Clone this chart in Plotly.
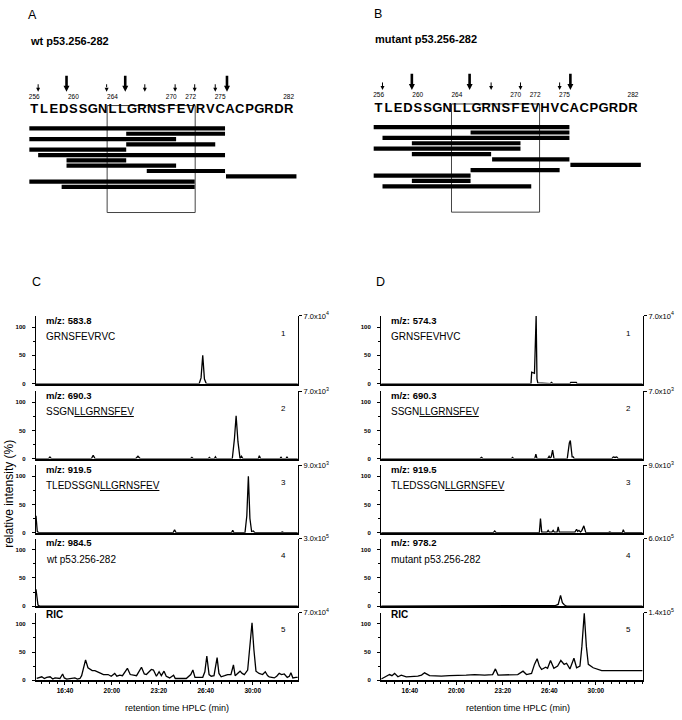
import plotly.graph_objects as go

W, H = 682, 720
FONT = "Liberation Sans, Arial, sans-serif"


def fx(px):
    return px / W


def fy(py):
    return 1 - py / H


# ---------------- sequence maps (panels A and B) ----------------
RESIDUES = list(range(256, 283))
WT_SEQ = list("TLEDSSGNLLGRNSFEVRVCACPGRDR")
MUT_SEQ = list("TLEDSSGNLLGRNSFEVHVCACPGRDR")
NUMBERED = [256, 260, 264, 270, 272, 275, 282]

# peptide fragments: start / end boundary (residue units), one row each
WT_BAR_START = [255.5, 265.4, 255.5, 265.4, 255.5, 256.4, 259.3, 259.3, 267.5, 275.6, 255.5, 258.8]
WT_BAR_END = [275.5, 275.5, 270.5, 274.5, 265.4, 275.5, 265.4, 270.5, 275.5, 282.8, 272.4, 272.4]
MUT_BAR_START = [255.5, 265.4, 256.4, 259.4, 255.5, 259.4, 267.6, 275.6, 265.4, 255.5, 259.4, 256.4]
MUT_BAR_END = [275.5, 275.5, 275.5, 270.5, 270.5, 267.5, 275.5, 282.8, 274.5, 265.4, 265.4, 271.6]

# cleavage sites
WT_ARROW_POS = [256.4, 259.3, 263.4, 265.3, 267.3, 270.4, 272.4, 274.5, 275.7]
WT_ARROW_KIND = ["minor", "major", "dashed", "major", "minor", "minor", "minor", "minor", "major"]
MUT_ARROW_POS = [256.4, 259.4, 265.3, 267.5, 270.5, 274.5, 275.6]
MUT_ARROW_KIND = ["minor", "major", "major", "minor", "minor", "minor", "major"]

BOX_RESIDUES = (263.45, 272.45)

ARROW_STYLE = {
    "major": dict(tail=-8.9, width=2.6, head=6, dash="solid"),
    "minor": dict(tail=-7.3, width=1.0, head=4, dash="solid"),
    "dashed": dict(tail=-7.3, width=1.0, head=4, dash="dot"),
}
ARROW_TIP = -5.9

# ---------------- chromatograms (panels C and D) ----------------
TIME_TICKS = [16.6667, 20.0, 23.3333, 26.6667, 30.0]
TIME_LABELS = ["16:40", "20:00", "23:20", "26:40", "30:00"]

C1_T = [14.61, 26.2, 26.33, 26.45, 26.57, 26.7, 33.2]
C1_V = [0, 0, 10, 50, 8, 0, 0]
C2_T = [14.61, 15.5, 15.6, 15.7, 18.55, 18.67, 18.8, 21.7, 21.85, 22.0, 25.6, 25.68, 25.76,
        26.85, 26.93, 27.0, 27.28, 27.35, 27.42, 28.55, 28.7, 28.82, 28.95, 29.1, 29.2, 29.3,
        30.4, 30.47, 30.55, 31.95, 32.0, 32.07, 32.37, 32.43, 32.5, 33.2]
C2_V = [0, 0, 3, 0, 0, 6, 0, 0, 4, 0, 0, 2, 0, 0, 2, 0, 0, 3, 0, 0, 35, 76, 30, 0, 4, 0,
        0, 5, 0, 0, 3, 0, 0, 3, 0, 0]
C3_T = [14.61, 14.7, 14.8, 15.9, 16.0, 16.1, 18.4, 18.5, 18.6, 24.35, 24.45, 24.55, 28.5,
        28.58, 28.66, 29.45, 29.58, 29.69, 29.8, 29.92, 30.04, 30.15, 32.0, 32.1, 32.2, 33.2]
C3_V = [30, 2, 0, 0, 1, 0, 0, 1, 0, 0, 5, 0, 0, 4, 0, 0, 30, 100, 25, 2, 3, 0, 0, 1, 0, 0]
C4_T = [14.61, 14.68, 14.75, 14.85, 28.2, 28.3, 28.4, 33.2]
C4_V = [30, 15, 2, 0, 0, 1, 0, 0]
C5_T = [14.66, 15.02, 15.2, 15.37, 15.61, 15.8, 15.96, 16.31, 16.5, 16.62, 16.79, 17.1, 17.37,
        17.55, 17.73, 17.85, 18.0, 18.13, 18.3, 18.44, 18.6, 18.79, 19.0, 19.14, 19.4, 19.73,
        19.95, 20.2, 20.35, 20.56, 20.75, 20.91, 21.1, 21.3, 21.5, 21.75, 22.1, 22.3, 22.45,
        22.8, 22.95, 23.16, 23.35, 23.51, 23.7, 23.86, 24.1, 24.38, 24.5, 24.69, 25.0, 25.28,
        25.6, 25.75, 25.9, 26.1, 26.45, 26.6, 26.74, 26.9, 27.05, 27.25, 27.35, 27.47, 27.6,
        27.76, 28.0, 28.22, 28.45, 28.63, 28.75, 28.9, 29.1, 29.25, 29.4, 29.64, 29.8, 29.95,
        30.08, 30.23, 30.45, 30.7, 30.89, 31.05, 31.17, 31.35, 31.53, 31.7, 31.88, 32.05,
        32.24, 32.45, 32.6, 32.71, 32.85, 33.07, 33.2]
C5_V = [3, 6, 3, 5, 6, 2, 4, 3, 11, 4, 2, 3, 4,
        2, 3, 8, 25, 36, 22, 19, 17, 17, 14, 13, 10, 10,
        7, 12, 7, 9, 8, 13, 21, 10, 9, 8, 23, 11, 10,
        19, 18, 7, 15, 8, 16, 7, 4, 9, 3, 3, 2, 3,
        10, 18, 5, 5, 5, 15, 43, 10, 7, 8, 25, 40, 12,
        6, 8, 10, 10, 27, 8, 12, 16, 12, 10, 18, 60, 102,
        55, 16, 12, 10, 15, 8, 6, 5, 4, 7, 12, 10,
        11, 5, 7, 13, 4, 5, 5]

D1_T = [14.61, 17.5, 17.58, 17.66, 24.3, 24.4, 24.5, 25.35, 25.4, 25.6, 25.65, 25.72, 25.78,
        25.84, 26.75, 26.82, 26.9, 28.15, 28.2, 28.6, 28.65, 33.35]
D1_V = [0, 0, 1, 0, 0, 1, 0, 0, 20, 18, 60, 121, 8, 1, 0, 2, 0, 0, 2, 2, 0, 0]
D2_T = [14.61, 21.7, 21.8, 21.9, 23.95, 24.02, 24.1, 25.62, 25.7, 25.78, 26.55, 26.65, 26.72,
        26.8, 26.9, 27.0, 27.95, 28.02, 28.1, 28.17, 28.3, 28.38, 28.45, 31.15, 31.25, 31.38,
        31.5, 31.6, 33.35]
D2_V = [0, 0, 2, 0, 0, 2, 0, 0, 8, 0, 0, 4, 1, 3, 15, 0, 0, 14, 28, 32, 3, 3, 0, 0, 3, 2,
        3, 0, 0]
D3_T = [14.61, 22.65, 22.75, 22.85, 25.95, 26.03, 26.12, 26.5, 26.58, 26.66, 26.85, 26.94,
        27.02, 27.22, 27.3, 27.38, 28.5, 28.62, 28.7, 28.79, 28.9, 29.0, 29.14, 29.28, 30.9,
        31.0, 31.1, 31.9, 31.97, 32.05, 33.35]
D3_V = [0, 0, 3, 0, 0, 25, 1, 1, 4, 1, 1, 4, 1, 1, 10, 1, 1, 6, 2, 4, 1, 4, 12, 0, 0,
        1, 0, 0, 5, 0, 0]
D4_T = [14.61, 26.9, 27.1, 27.3, 27.47, 27.6, 27.75, 27.9, 33.35]
D4_V = [0, 0, 1, 3, 19, 6, 2, 0, 0]
D5_T = [14.61, 14.97, 15.21, 15.38, 15.57, 15.81, 16.05, 16.41, 16.77, 17.24, 17.5, 17.72,
        18.08, 18.5, 18.92, 19.5, 20.11, 20.7, 21.31, 22.03, 22.6, 22.8, 22.99, 23.71, 24.4,
        24.78, 25.03, 25.39, 25.6, 25.79, 25.95, 26.11, 26.4, 26.54, 26.75, 26.99, 27.26,
        27.49, 27.73, 27.9, 28.14, 28.43, 28.62, 28.86, 29.0, 29.17, 29.32, 29.46, 29.81,
        30.42, 31.13, 31.85, 32.57, 33.35]
D5_V = [2, 6, 10, 8, 12, 6, 9, 6, 6, 7, 9, 13,
        8, 7, 7, 8, 8, 9, 10, 9, 10, 20, 9, 9, 10,
        16, 10, 12, 28, 38, 25, 19, 23, 21, 35, 21, 25,
        35, 28, 30, 20, 39, 22, 25, 60, 119, 60, 28, 22,
        17, 17, 16, 16, 17]

C_TRACES = [(C1_T, C1_V), (C2_T, C2_V), (C3_T, C3_V), (C4_T, C4_V), (C5_T, C5_V)]
D_TRACES = [(D1_T, D1_V), (D2_T, D2_V), (D3_T, D3_V), (D4_T, D4_V), (D5_T, D5_V)]

C_MZ = ["m/z: 583.8", "m/z: 690.3", "m/z: 919.5", "m/z: 984.5", "RIC"]
D_MZ = ["m/z: 574.3", "m/z: 690.3", "m/z: 919.5", "m/z: 978.2", "RIC"]
C_PEPTIDE = ["GRNSFEVRVC", "SSGN<u>LLGRNSFEV</u>", "TLEDSSGN<u>LLGRNSFEV</u>", "wt p53.256-282", ""]
D_PEPTIDE = ["GRNSFEVHVC", "SSGN<u>LLGRNSFEV</u>", "TLEDSSGN<u>LLGRNSFEV</u>", "mutant p53.256-282", ""]
C_SCALE = ["7.0x10<sup>4</sup>", "7.0x10<sup>3</sup>", "9.0x10<sup>3</sup>", "3.0x10<sup>5</sup>", "7.0x10<sup>4</sup>"]
D_SCALE = ["7.0x10<sup>4</sup>", "7.0x10<sup>3</sup>", "9.0x10<sup>3</sup>", "6.0x10<sup>5</sup>", "1.4x10<sup>5</sup>"]

fig = go.Figure()
layout = dict(
    width=W, height=H, margin=dict(l=0, r=0, t=0, b=0),
    paper_bgcolor="white", plot_bgcolor="white", showlegend=False,
    font=dict(family=FONT, color="black"),
)
annotations = []
shapes = []


def note(text, px, py, size, bold=False, xanchor="left", angle=0):
    annotations.append(dict(
        text=text, x=fx(px), y=fy(py), xref="paper", yref="paper", showarrow=False,
        xanchor=xanchor, yanchor="middle", textangle=angle,
        font=dict(size=size, family=FONT, color="black", weight="bold" if bold else "normal"),
    ))


# ---------------- A / B ----------------
seq_panels = [
    dict(n="", seq=WT_SEQ, s=WT_BAR_START, e=WT_BAR_END, ap=WT_ARROW_POS, ak=WT_ARROW_KIND,
         xd=(24.45, 303.3), yd=(215.6, 64.7)),
    dict(n="2", seq=MUT_SEQ, s=MUT_BAR_START, e=MUT_BAR_END, ap=MUT_ARROW_POS, ak=MUT_ARROW_KIND,
         xd=(368.8, 647.7), yd=(215.3, 62.7)),
]
for p in seq_panels:
    xa, ya = "x" + p["n"], "y" + p["n"]
    layout["xaxis" + p["n"]] = dict(domain=[fx(p["xd"][0]), fx(p["xd"][1])], range=[255, 283.5],
                                    visible=False, anchor=ya)
    layout["yaxis" + p["n"]] = dict(domain=[fy(p["yd"][0]), fy(p["yd"][1])], range=[18, -10],
                                    visible=False, anchor=xa)
    # fragment bars
    bx, by = [], []
    for row, (s, e) in enumerate(zip(p["s"], p["e"]), start=1):
        bx += [s, e, None]
        by += [row, row, None]
    fig.add_trace(go.Scatter(x=bx, y=by, mode="lines", line=dict(color="black", width=4.2),
                             xaxis=xa, yaxis=ya, hoverinfo="skip"))
    # residues
    fig.add_trace(go.Scatter(x=RESIDUES, y=[-2.5] * len(RESIDUES), mode="text", text=p["seq"],
                             textfont=dict(size=13, family=FONT, color="black", weight="bold"),
                             xaxis=xa, yaxis=ya, hoverinfo="skip"))
    fig.add_trace(go.Scatter(x=NUMBERED, y=[-4.9] * len(NUMBERED), mode="text",
                             text=[str(v) for v in NUMBERED],
                             textfont=dict(size=6.5, family=FONT, color="black"),
                             xaxis=xa, yaxis=ya, hoverinfo="skip"))
    # cleavage arrows
    for kind, st in ARROW_STYLE.items():
        pos = [a for a, k in zip(p["ap"], p["ak"]) if k == kind]
        if not pos:
            continue
        lx, ly = [], []
        for a in pos:
            lx += [a, a, None]
            ly += [st["tail"], ARROW_TIP - 0.6, None]
        fig.add_trace(go.Scatter(x=lx, y=ly, mode="lines",
                                 line=dict(color="black", width=st["width"], dash=st["dash"]),
                                 xaxis=xa, yaxis=ya, hoverinfo="skip"))
        fig.add_trace(go.Scatter(x=pos, y=[ARROW_TIP] * len(pos), mode="markers",
                                 marker=dict(symbol="arrow-down", size=st["head"], color="black"),
                                 xaxis=xa, yaxis=ya, hoverinfo="skip"))
    shapes.append(dict(type="rect", xref=xa, yref=ya, x0=BOX_RESIDUES[0], x1=BOX_RESIDUES[1],
                       y0=-3.3, y1=16.8, line=dict(color="#444", width=1), layer="below"))

note("A", 26, 9.5, 12.5)
note("B", 372, 8, 12.5)
note("wt p53.256-282", 28, 35, 11, bold=True)
note("mutant p53.256-282", 373, 33, 11, bold=True)

# ---------------- C / D ----------------
ZERO_PX = [382.3, 458.3, 533.3, 607.7, 682.7]
UNIT_PX = 0.57
TOP = 120
columns = [
    dict(traces=C_TRACES, mz=C_MZ, pep=C_PEPTIDE, scale=C_SCALE, xd=(36, 297.8), xr=[14.61, 33.2]),
    dict(traces=D_TRACES, mz=D_MZ, pep=D_PEPTIDE, scale=D_SCALE, xd=(381.2, 642.7), xr=[14.61, 33.36]),
]
for c, col in enumerate(columns):
    for k in range(5):
        xi = 3 + c * 5 + k
        ri = 13 + c * 5 + k
        zero = ZERO_PX[k]
        bottom = k == 4
        layout[f"xaxis{xi}"] = dict(
            domain=[fx(col["xd"][0]), fx(col["xd"][1])], range=col["xr"], anchor=f"y{xi}",
            showline=True, linecolor="black", linewidth=1.5, showgrid=False, zeroline=False,
            ticks="outside" if bottom else "", ticklen=3, tickcolor="black",
            showticklabels=bottom, tickmode="array", tickvals=TIME_TICKS, ticktext=TIME_LABELS,
            tickfont=dict(size=6.5, family=FONT, weight="bold"),
            minor=dict(tickmode="linear", tick0=TIME_TICKS[0], dtick=0.5556, ticks="outside",
                       ticklen=2, tickcolor="black") if bottom else None,
        )
        layout[f"yaxis{xi}"] = dict(
            domain=[fy(zero), fy(zero - TOP * UNIT_PX)], range=[0, TOP], anchor=f"x{xi}",
            showline=True, linecolor="black", linewidth=1.4, showgrid=False, zeroline=False,
            ticks="outside", ticklen=3, tickcolor="black", tickvals=[0, 50, 100],
            ticklabelstandoff=5, tickfont=dict(size=6, family=FONT, weight="bold"),
            minor=dict(tickmode="linear", tick0=0, dtick=25, ticks="outside", ticklen=2,
                       tickcolor="black"),
        )
        layout[f"yaxis{ri}"] = dict(
            overlaying=f"y{xi}", anchor=f"x{xi}", side="right", range=[0, TOP],
            showline=True, linecolor="black", linewidth=1.4, showgrid=False, zeroline=False,
            ticks="outside", ticklen=3, tickcolor="black", tickvals=[TOP],
            ticktext=[col["scale"][k]], tickfont=dict(size=7.5, family=FONT),
        )
        t, v = col["traces"][k]
        fig.add_trace(go.Scatter(x=t, y=v, mode="lines", line=dict(color="black", width=1.3),
                                 xaxis=f"x{xi}", yaxis=f"y{xi}", hoverinfo="skip"))
        fig.add_trace(go.Scatter(x=[], y=[], xaxis=f"x{xi}", yaxis=f"y{ri}", hoverinfo="skip"))

        x0, x1 = col["xd"]
        if bottom:
            note(col["mz"][k], x0 + 8, zero - 66, 10, bold=True)
        else:
            note(col["mz"][k], x0 + 8, zero - 64, 9.5, bold=True)
            note(col["pep"][k], x0 + 8, zero - 47.5, 10)
        note(str(k + 1), x1 - 14, zero - 51, 8, xanchor="center")

note("C", 30, 280, 12.5)
note("D", 374, 280, 12.5)
note("relative intensity (%)", 9, 494, 12, xanchor="center", angle=-90)
note("retention time HPLC (min)", 177, 711, 9, xanchor="center")
note("retention time HPLC (min)", 518, 711, 9, xanchor="center")

layout["annotations"] = annotations
layout["shapes"] = shapes
fig.update_layout(**layout)
fig.write_html("out.html", config={"displayModeBar": False},
               post_script="document.body.style.margin='0';")
